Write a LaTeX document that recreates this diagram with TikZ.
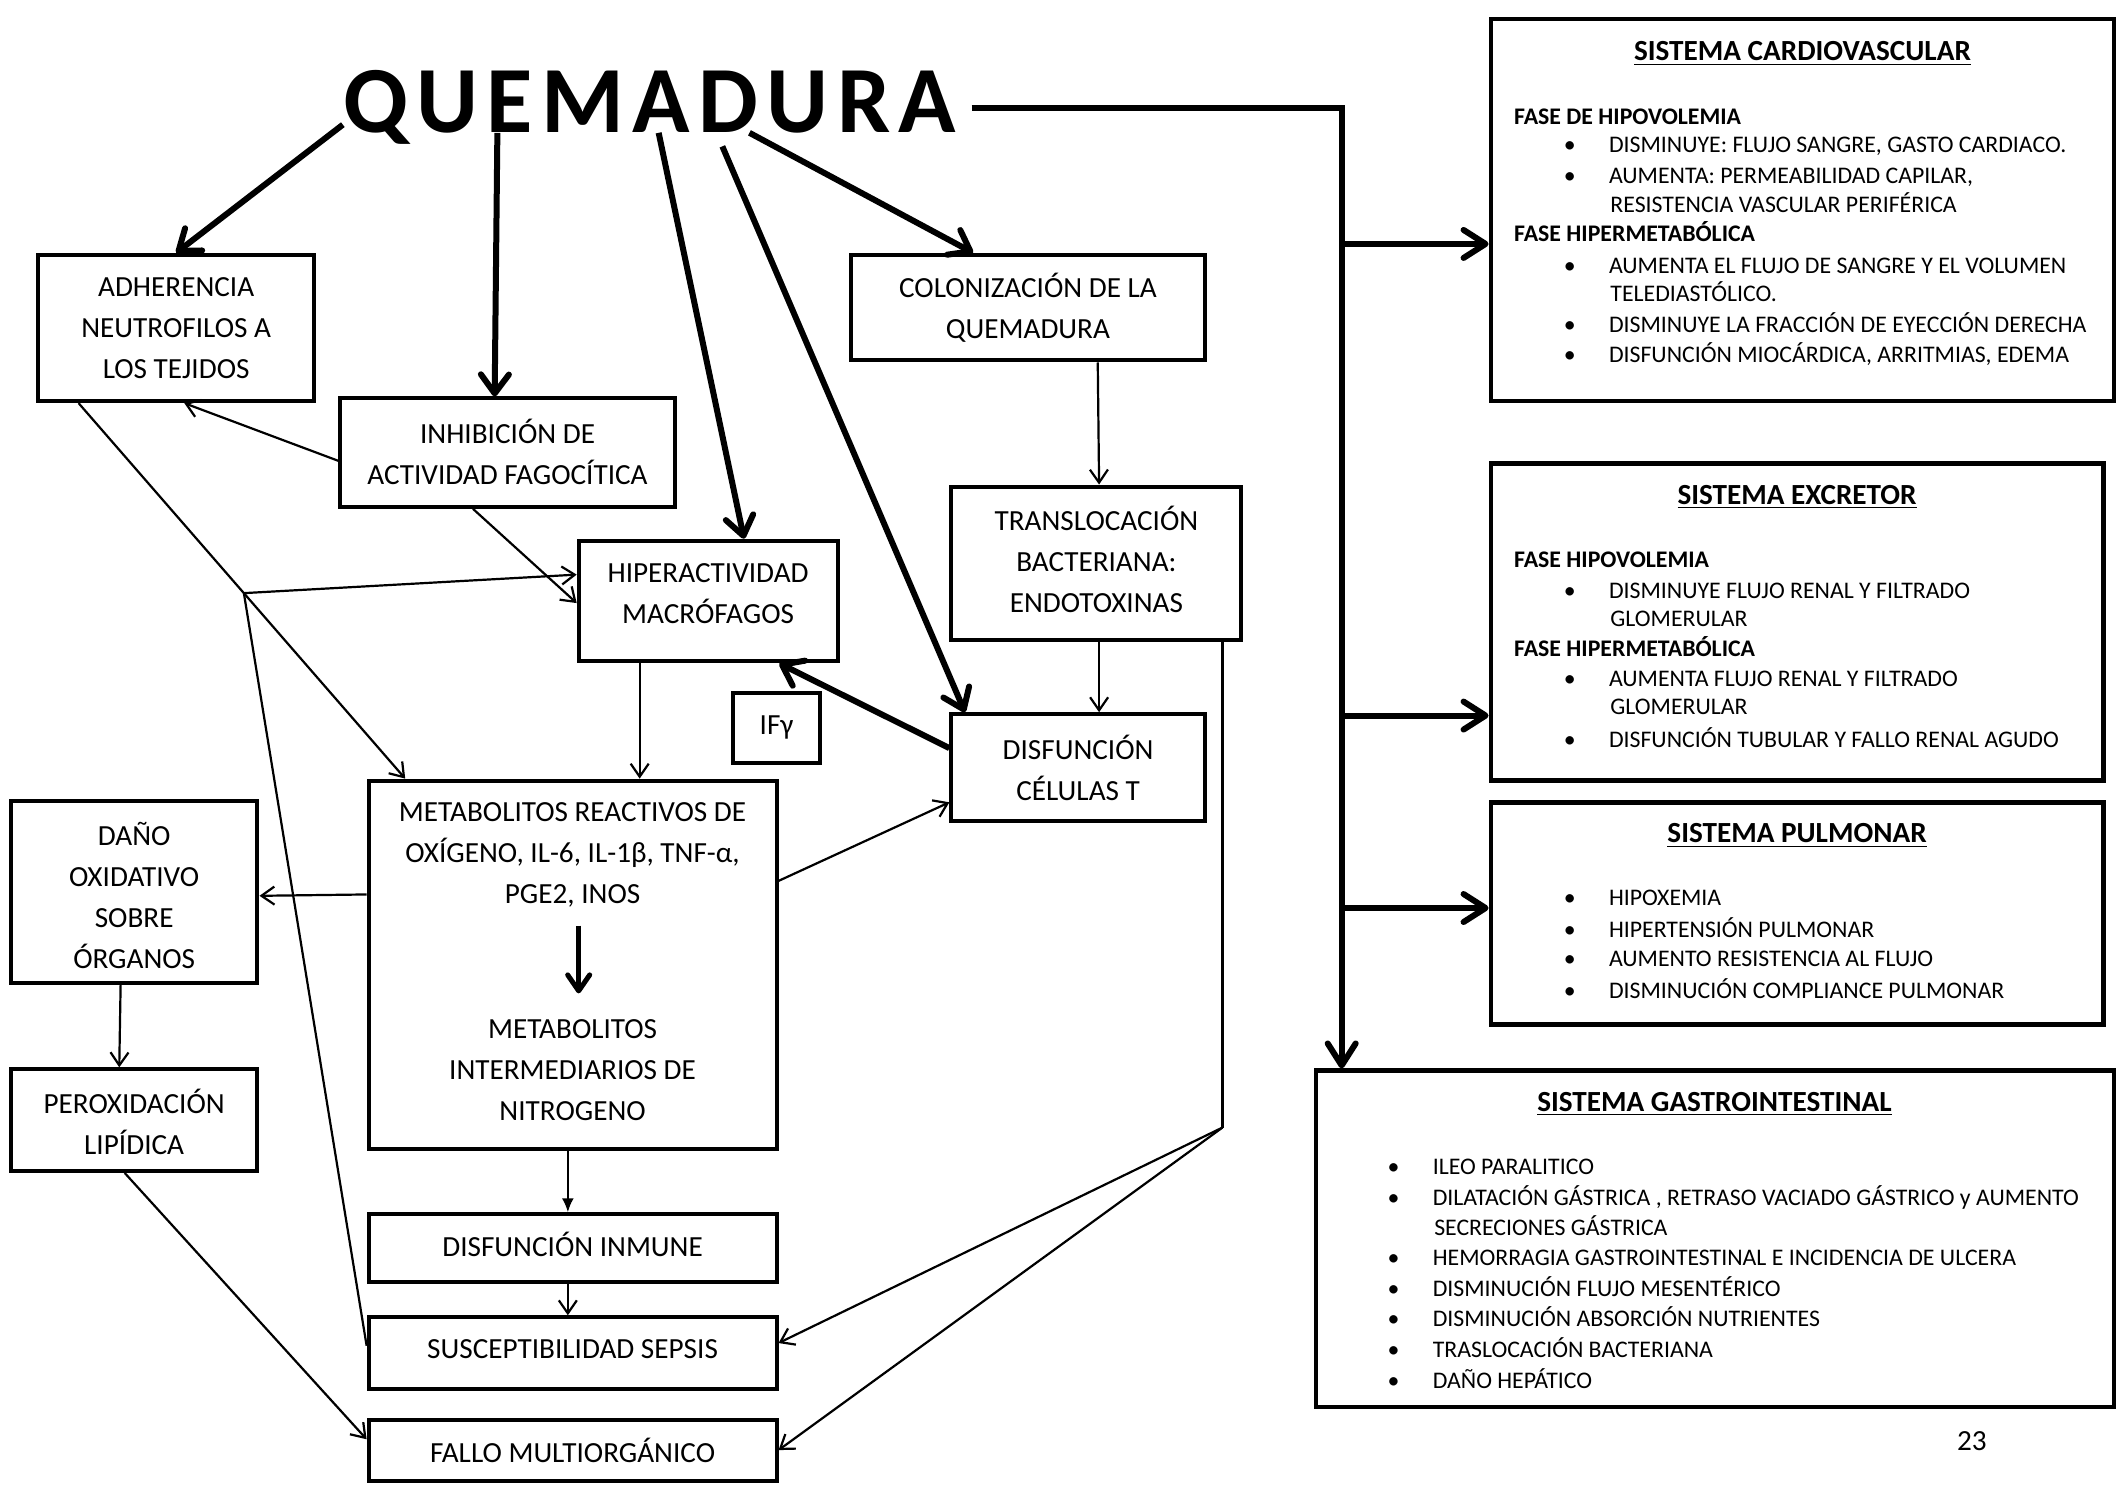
\documentclass[tikz,border=0pt]{standalone}
\usepackage{fontspec}
\setmainfont{Carlito}
\usetikzlibrary{arrows.meta,fit,calc}
\newcommand\bxf{\fontsize{14.6}{20.5}\selectfont}
\newcommand\rtf{\fontsize{11.9}{14.9}\selectfont}
\newcommand\ttf{\fontsize{14.6}{17}\selectfont\bfseries}
\newcommand\qf{\fontsize{47.4}{50}\selectfont\bfseries}
\newcommand\bulit{\makebox[22.6pt][l]{•}}
\newcommand\qk{\kern4.2pt}
\begin{document}
\begin{tikzpicture}[x=0.6776pt,y=-0.6776pt,
  bx/.style={draw, line width=2pt, inner sep=0pt},
  bt/.style={inner sep=0pt, align=center, font=\bxf},
  rbx/.style={draw, line width=2.2pt, inner sep=0pt},
  rl/.style={anchor=base west, inner sep=0pt, font=\rtf},
  rt/.style={anchor=base, inner sep=0pt, font=\ttf},
  thinarr/.style={line width=1.1pt, -{Straight Barb[length=6.5pt,width=9pt]}},
  thinln/.style={line width=1.1pt},
  thickarr/.style={line width=3pt, -{Straight Barb[length=9.5pt,width=14pt,round]}},
  midarr/.style={line width=2.5pt, -{Straight Barb[length=8pt,width=11pt,round]}},
  spinearr/.style={line width=3pt, -{Straight Barb[length=11pt,width=14pt,round]}},
  fillarr/.style={line width=1.1pt, -{Latex[length=7pt,width=6pt]}}
]
\useasboundingbox (0,0) rectangle (1568,1096);

% title
\node[anchor=base, inner sep=0pt, font=\qf] (q) at (479.5,98) {Q\qk U\qk E\qk M\qk A\qk D\qk U\qk R\qk A};

% left boxes
\node[bx, fit={(28,188) (232,296)}] (adh) {};
\node[bt] (adht) at (130,242) {ADHERENCIA\\NEUTROFILOS A\\LOS TEJIDOS};
\node[bx, fit={(251,294) (498,374)}] (inh) {};
\node[bt] (inht) at (374.5,333.5) {INHIBICIÓN DE\\ACTIVIDAD FAGOCÍTICA};
\node[bx, fit={(628,188) (889,266)}] (col) {};
\node[bt] (colt) at (758.5,227) {COLONIZACIÓN DE LA\\QUEMADURA};
\node[bx, fit={(427,399) (618,488)}] (hip) {};
\node[bt] (hipt) at (522.5,438) {HIPERACTIVIDAD\\MACRÓFAGOS};
\node[bx, fit={(702,359) (916,472)}] (tra) {};
\node[bt] (trat) at (809,413) {TRANSLOCACIÓN\\BACTERIANA:\\ENDOTOXINAS};
\node[bx, fit={(541,511) (605,563)}] (ifg) {};
\node[bt] (ifgt) at (573,537) {IFγ};
\node[bx, fit={(702,527) (889,606)}] (dct) {};
\node[bt] (dctt) at (795.5,566.5) {DISFUNCIÓN\\CÉLULAS T};
\node[bx, fit={(272,576) (573,848)}] (met) {};
\node[bt] (mett) at (422.5,709.5) {METABOLITOS REACTIVOS DE\\OXÍGENO, IL-6, IL-1β, TNF-α,\\PGE2, INOS\\[47.4pt]METABOLITOS\\INTERMEDIARIOS DE\\NITROGENO};
\node[bx, fit={(8,591) (190,725)}] (dan) {};
\node[bt] (dant) at (99,660.5) {DAÑO\\OXIDATIVO\\SOBRE\\ÓRGANOS};
\node[bx, fit={(8,789) (190,864)}] (per) {};
\node[bt] (pert) at (99,828) {PEROXIDACIÓN\\LIPÍDICA};
\node[bx, fit={(272,896) (573,946)}] (din) {};
\node[bt] (dint) at (422.5,918) {DISFUNCIÓN INMUNE};
\node[bx, fit={(272,972) (573,1025)}] (sus) {};
\node[bt] (sust) at (422.5,995.5) {SUSCEPTIBILIDAD SEPSIS};
\node[bx, fit={(272,1048) (573,1093)}] (fal) {};
\node[bt] (falt) at (422.5,1070.5) {FALLO MULTIORGÁNICO};

% right boxes
\node[rbx, fit={(1100,14) (1560,296)}] (car) {};
\node[rt] (ct) at (1330,45) {\underline{SISTEMA CARDIOVASCULAR}};
\node[rl] (c1) at (1117,91.5) {\textbf{FASE DE HIPOVOLEMIA}};
\node[rl] (c2) at (1153.6,112.5) {\bulit DISMINUYE: FLUJO SANGRE, GASTO CARDIACO.};
\node[rl] (c3) at (1153.6,135.5) {\bulit AUMENTA: PERMEABILIDAD CAPILAR,};
\node[rl] (c4) at (1188,156.5) {RESISTENCIA VASCULAR PERIFÉRICA};
\node[rl] (c5) at (1117,178.5) {\textbf{FASE HIPERMETABÓLICA}};
\node[rl] (c6) at (1153.6,201.5) {\bulit AUMENTA EL FLUJO DE SANGRE Y EL VOLUMEN};
\node[rl] (c7) at (1188,222.5) {TELEDIASTÓLICO.};
\node[rl] (c8) at (1153.6,245.5) {\bulit DISMINUYE LA FRACCIÓN DE EYECCIÓN DERECHA};
\node[rl] (c9) at (1153.6,267.5) {\bulit DISFUNCIÓN MIOCÁRDICA, ARRITMIAS, EDEMA};

\node[rbx, fit={(1100,342) (1552,576)}] (exc) {};
\node[rt] (et) at (1326,372) {\underline{SISTEMA EXCRETOR}};
\node[rl] (e1) at (1117,418.5) {\textbf{FASE HIPOVOLEMIA}};
\node[rl] (e2) at (1153.6,441.5) {\bulit DISMINUYE FLUJO RENAL Y FILTRADO};
\node[rl] (e3) at (1188,462.5) {GLOMERULAR};
\node[rl] (e4) at (1117,484.5) {\textbf{FASE HIPERMETABÓLICA}};
\node[rl] (e5) at (1153.6,506.5) {\bulit AUMENTA FLUJO RENAL Y FILTRADO};
\node[rl] (e6) at (1188,527.5) {GLOMERULAR};
\node[rl] (e7) at (1153.6,551.5) {\bulit DISFUNCIÓN TUBULAR Y FALLO RENAL AGUDO};

\node[rbx, fit={(1100,592) (1552,756)}] (pul) {};
\node[rt] (pt) at (1326,622) {\underline{SISTEMA PULMONAR}};
\node[rl] (p1) at (1153.6,668.5) {\bulit HIPOXEMIA};
\node[rl] (p2) at (1153.6,691.5) {\bulit HIPERTENSIÓN PULMONAR};
\node[rl] (p3) at (1153.6,713.5) {\bulit AUMENTO RESISTENCIA AL FLUJO};
\node[rl] (p4) at (1153.6,736.5) {\bulit DISMINUCIÓN COMPLIANCE PULMONAR};

\node[rbx, fit={(971,790) (1560,1038)}] (gi) {};
\node[rt] (gt) at (1265,820) {\underline{SISTEMA GASTROINTESTINAL}};
\node[rl] (g1) at (1023.6,866.5) {\bulit ILEO PARALITICO};
\node[rl] (g2) at (1023.6,889.5) {\bulit DILATACIÓN GÁSTRICA , RETRASO VACIADO GÁSTRICO y AUMENTO};
\node[rl] (g3) at (1058,911.5) {SECRECIONES GÁSTRICA};
\node[rl] (g4) at (1023.6,933.5) {\bulit HEMORRAGIA GASTROINTESTINAL E INCIDENCIA DE ULCERA};
\node[rl] (g5) at (1023.6,956.5) {\bulit DISMINUCIÓN FLUJO MESENTÉRICO};
\node[rl] (g6) at (1023.6,978.5) {\bulit DISMINUCIÓN ABSORCIÓN NUTRIENTES};
\node[rl] (g7) at (1023.6,1001.5) {\bulit TRASLOCACIÓN BACTERIANA};
\node[rl] (g8) at (1023.6,1024.5) {\bulit DAÑO HEPÁTICO};

\node[anchor=base, inner sep=0pt, font=\bxf] (pg) at (1455,1070) {23};

% thick arrows from title
\draw[thickarr] (q.west |- 0,92) -- (adh.north);
\draw[thickarr] (q.base -| 367,0) -- (inh.north -| 365,0);
\draw[thickarr] (q.base -| 486,0) -- (hip.north -| 549,0);
\draw[thickarr] ($(q.base -| 533,0)+(0,10)$) -- (dct.north -| 712,0);
\draw[thickarr] (q.base -| 553,0) -- (col.north -| 718,0);

% spine
\draw[spinearr] ($(q.east)+(11,0)$) -| (gi.north -| 990,0);
\coordinate (b1) at (990,180);
\coordinate (b2) at (990,528);
\coordinate (b3) at (990,670);
\draw[spinearr] (b1) -- (car.west |- b1);
\draw[spinearr] (b2) -- (exc.west |- b2);
\draw[spinearr] (b3) -- (pul.west |- b3);

% thin connectors
\draw[thinarr] (inh.west |- 0,340) -- (adh.south -| 136,0);
\draw[thinarr] (adh.south -| 58,0) -- (met.north -| 299,0);
\coordinate (j) at ($(adh.south -| 58,0)!0.506!(met.north -| 299,0)$);
\draw[thinarr] (j) -- (hip.west |- 0,424);
\draw[thinln] (j) -- (sus.west |- 0,993);
\draw[thinarr] (inh.south -| 349,0) -- (hip.west |- 0,445);
\draw[thinarr] (hip.south -| 472,0) -- (met.north -| 472,0);
\draw[thinarr] (met.west |- 0,660) -- (dan.east |- 0,661);
\draw[thinarr] (met.east |- 0,650) -- (dct.west |- 0,592);
\draw[thinarr] (col.south -| 810,0) -- (tra.north -| 811,0);
\draw[thinarr] (tra.south -| 811,0) -- (dct.north -| 811,0);
\coordinate (k) at (902,832);
\draw[thinln] (tra.south -| 902,0) -- (k);
\draw[thinarr] (k) -- (sus.east |- 0,991);
\draw[thinarr] (k) -- (fal.east |- 0,1070);
\draw[thickarr] (dct.west |- 0,552) -- (hip.south -| 575,0);
\draw[thinarr] (dan.south -| 89,0) -- (per.north -| 88,0);
\draw[thinarr] (per.south -| 92,0) -- (fal.west |- 0,1062);
\draw[fillarr] (met.south -| 419,0) -- (din.north -| 419,0);
\draw[thinarr] (din.south -| 419,0) -- (sus.north -| 419,0);
\coordinate (m1) at (427,683);
\coordinate (m2) at (427,733);
\draw[midarr] (m1) -- (m2);
\end{tikzpicture}
\end{document}
